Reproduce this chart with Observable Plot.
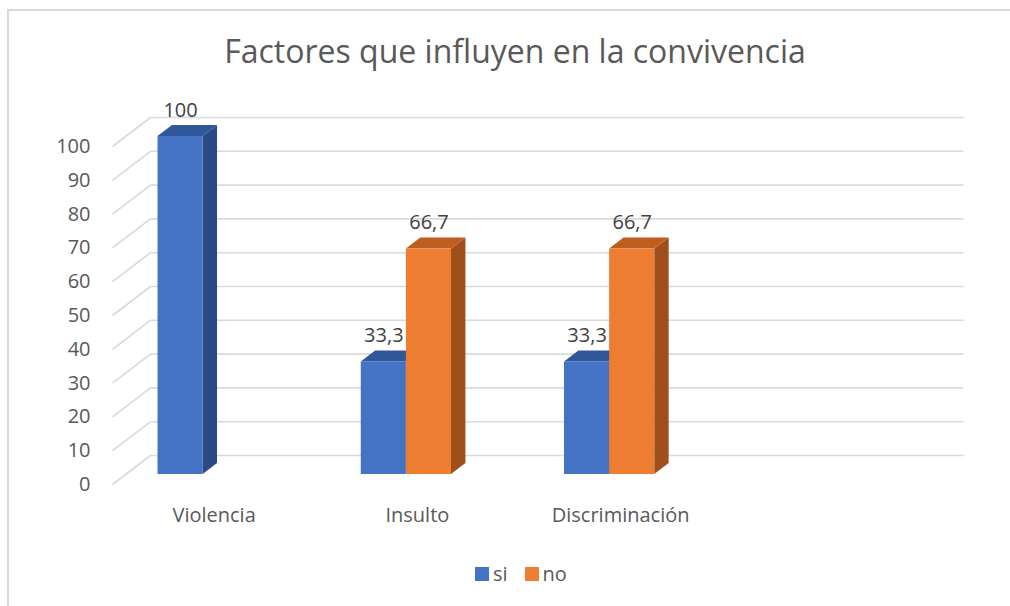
<!DOCTYPE html>
<html><head><meta charset="utf-8">
<script src="https://cdn.jsdelivr.net/npm/d3@7"></script>
<script src="https://cdn.jsdelivr.net/npm/@observablehq/plot@0.6"></script>
<style>
html,body{margin:0;padding:0;background:#fff;overflow:hidden;}
#wrap{position:relative;width:1010px;height:606px;font-family:"Open Sans",sans-serif;overflow:hidden;}
#frame{position:absolute;left:7px;top:9px;width:1100px;height:700px;border-top:2px solid #d9d9d9;border-left:2px solid #d9d9d9;}
#title{position:absolute;left:0;width:1030px;top:35px;text-align:center;font-size:32px;line-height:1;color:#595959;white-space:nowrap;}
#chart{position:absolute;left:0;top:90px;}
#legend{position:absolute;left:475px;top:563px;display:flex;align-items:center;font-size:20px;color:#595959;line-height:22px;}
#legend .item{display:flex;align-items:center;margin-right:17px;}
#legend .sw{width:14px;height:14px;display:inline-block;margin-right:4px;}
</style></head>
<body>
<div id="wrap">
  <div id="frame"></div>
  <div id="title">Factores que influyen en la convivencia</div>
  <div id="chart"></div>
  <div id="legend"></div>
</div>
<script>
// ---- data ----
const categories = ["Violencia", "Insulto", "Discriminación"];
const series = ["si", "no"];
const si = [100, 33.3, 33.3];
const no = [null, 66.7, 66.7];
const yTicks = [0, 10, 20, 30, 40, 50, 60, 70, 80, 90, 100];

// ---- styling ----
const colors = {
  si: {front: "#4472C4", top: "#30569B", side: "#2B4A85"},
  no: {front: "#ED7D31", top: "#BF5D1E", side: "#9E4F1C"}
};
const slot = {si: [0.16, 0.382], no: [0.382, 0.604]}; // position of each series inside a category slot
const pxPerSlot = 203.25, pxPerUnit = 3.38;           // used to convert the 3-D depth offsets
const depth = {dx: 14.4 / pxPerSlot, dy: 11 / pxPerUnit};
const front = {dx: -13 / pxPerSlot, dy: -10 / pxPerUnit};
const back = {dx: 25 / pxPerSlot, dy: 19 / pxPerUnit};

const values = {si, no};
const bars = [];
series.forEach(s => {
  categories.forEach((c, i) => {
    const v = values[s][i];
    if (v == null) return;
    bars.push({s, cat: c, v, xl: i + slot[s][0], xr: i + slot[s][1], key: s + i});
  });
});
const sidePts = bars.flatMap(b => [
  {s: b.s, k: b.key, x: b.xr, y1: 0, y2: b.v},
  {s: b.s, k: b.key, x: b.xr + depth.dx, y1: depth.dy, y2: b.v + depth.dy}
]);
const topPts = bars.flatMap(b => [
  {s: b.s, k: b.key, x: b.xl, y1: b.v, y2: b.v},
  {s: b.s, k: b.key, x: b.xl + depth.dx, y1: b.v, y2: b.v + depth.dy},
  {s: b.s, k: b.key, x: b.xr, y1: b.v, y2: b.v + depth.dy},
  {s: b.s, k: b.key, x: b.xr + depth.dx, y1: b.v + depth.dy, y2: b.v + depth.dy}
]);

const locale = d3.formatLocale({decimal: ",", thousands: ".", grouping: [3], currency: ["", ""]});
const fmt = locale.format("~g");

const barMarks = series.flatMap(s => [
  Plot.area(sidePts.filter(d => d.s === s), {x1: "x", y1: "y1", y2: "y2", z: "k", fill: colors[s].side, curve: "linear"}),
  Plot.area(topPts.filter(d => d.s === s), {x1: "x", y1: "y1", y2: "y2", z: "k", fill: colors[s].top, curve: "linear"}),
  Plot.rect(bars.filter(d => d.s === s), {x1: "xl", x2: "xr", y1: () => 0, y2: "v", fill: colors[s].front})
]);

const chart = Plot.plot({
  width: 1010,
  height: 460,
  marginLeft: 125,
  marginRight: 72,
  marginTop: 46,
  marginBottom: 76,
  x: {domain: [0, 4], axis: null},
  y: {domain: [0, 100], axis: null},
  style: {fontFamily: "'Open Sans', sans-serif", fontSize: "20px", color: "#595959", background: "transparent", overflow: "visible"},
  marks: [
    Plot.link(yTicks, {x1: () => back.dx, y1: d => d + back.dy, x2: () => 4 + back.dx, y2: d => d + back.dy,
      stroke: "#d9d9d9", strokeWidth: 1.6}),
    Plot.link(yTicks, {x1: () => front.dx, y1: d => d + front.dy, x2: () => back.dx, y2: d => d + back.dy,
      stroke: "#d9d9d9", strokeWidth: 1.6}),
    ...barMarks,
    Plot.text(bars, {x: d => (d.xl + d.xr) / 2, y: "v", text: d => fmt(d.v), dy: -26, fill: "#404040", fontSize: 20}),
    Plot.text(categories, {x: (d, i) => i + 0.5, y: () => 0, text: d => d, dx: -13, dy: 41, fill: "#595959", fontSize: 20}),
    Plot.axisY(yTicks, {tickSize: 0, tickPadding: 35, dy: 10, fontSize: 20, fill: "#595959", label: null, tickFormat: d => fmt(d)})
  ]
});
document.getElementById("chart").appendChild(chart);

// ---- legend ----
const legend = document.getElementById("legend");
series.forEach(s => {
  const item = document.createElement("span");
  item.className = "item";
  const sw = document.createElement("span");
  sw.className = "sw";
  sw.style.background = colors[s].front;
  item.appendChild(sw);
  item.appendChild(document.createTextNode(s));
  legend.appendChild(item);
});
</script>
</body></html>
